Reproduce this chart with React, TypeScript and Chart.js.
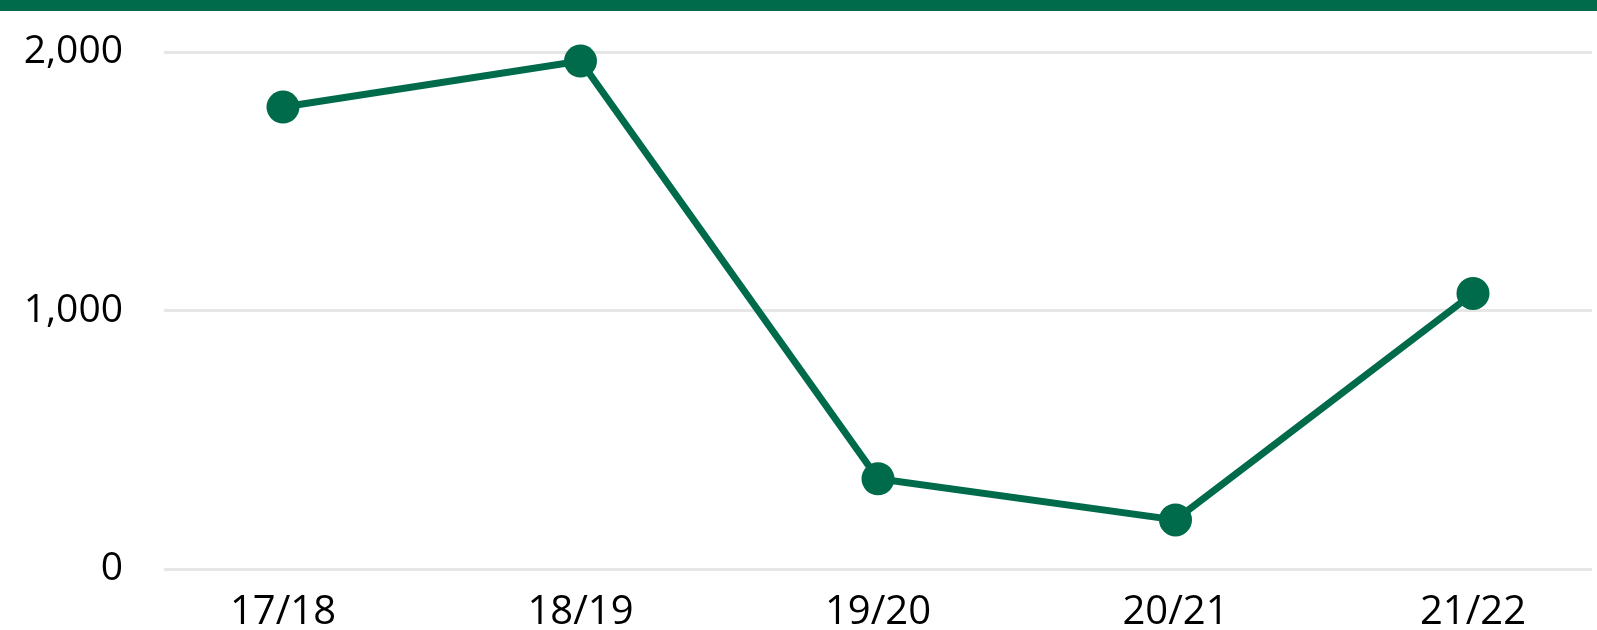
import React, { useEffect, useRef } from "react";
import { Chart, registerables } from "chart.js";

Chart.register(...registerables);

const categories = ["17/18", "18/19", "19/20", "20/21", "21/22"];
const values = [1787, 1965, 349, 190, 1066];
const yTicks = [0, 1000, 2000];

const GREEN = "#006B4A";

export default function App() {
  const ref = useRef<HTMLCanvasElement | null>(null);

  useEffect(() => {
    document.body.style.margin = "0";
    const canvas = ref.current;
    if (!canvas) return;
    const chart = new Chart(canvas, {
      type: "line",
      data: {
        datasets: [
          {
            data: values.map((v, i) => ({ x: i, y: v })),
            borderColor: GREEN,
            backgroundColor: GREEN,
            borderWidth: 7,
            pointRadius: 16.5,
            pointHoverRadius: 16.5,
            pointBackgroundColor: GREEN,
            pointBorderWidth: 0,
            tension: 0,
            clip: false,
          },
        ],
      },
      options: {
        animation: false,
        responsive: false,
        maintainAspectRatio: false,
        events: [],
        layout: { autoPadding: false, padding: { top: 41, right: 5, left: 0, bottom: 0 } },
        plugins: { legend: { display: false }, tooltip: { enabled: false } },
        scales: {
          x: {
            type: "linear",
            min: -0.4,
            max: 4.4,
            afterBuildTicks: (scale: any) => {
              scale.ticks = categories.map((_, i) => ({ value: i }));
            },
            afterFit: (scale: any) => {
              scale.height = 61;
              scale.paddingLeft = 0;
              scale.paddingRight = 0;
            },
            grid: { display: false },
            border: { display: false },
            ticks: {
              color: "#000",
              padding: 12,
              font: { family: "'Open Sans'", size: 40 },
              callback: (v: any) => categories[Number(v)] ?? "",
              maxRotation: 0,
            },
          },
          y: {
            min: yTicks[0],
            max: yTicks[yTicks.length - 1],
            afterBuildTicks: (scale: any) => {
              scale.ticks = yTicks.map((v) => ({ value: v }));
            },
            afterFit: (scale: any) => {
              scale.width = 164;
              scale.paddingTop = 0;
              scale.paddingBottom = 0;
            },
            grid: { color: "#e6e6e6", lineWidth: 3, drawTicks: false },
            border: { display: false },
            ticks: {
              color: "#000",
              padding: 41,
              font: { family: "'Open Sans'", size: 39 },
              callback: (v: any) => Number(v).toLocaleString("en-US"),
            },
          },
        },
      },
    });
    return () => chart.destroy();
  }, []);

  return (
    <div style={{ width: 1597, height: 630, background: "#fff" }}>
      <div style={{ height: 11, background: GREEN }} />
      <canvas ref={ref} width={1597} height={619} style={{ display: "block" }} />
    </div>
  );
}
